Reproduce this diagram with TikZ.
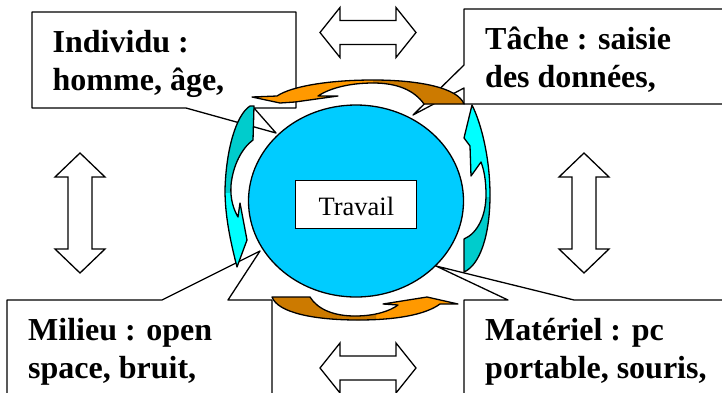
\documentclass[tikz,border=0pt]{standalone}
\usepackage{fontspec}
\setmainfont{Liberation Serif}
\usetikzlibrary{shapes.geometric}
\definecolor{skyfill}{RGB}{0,204,255}
\definecolor{orangeA}{RGB}{255,153,0}
\definecolor{brownA}{RGB}{204,122,0}
\definecolor{cyanDark}{RGB}{0,204,204}
\definecolor{cyanLight}{RGB}{0,255,255}
\tikzset{
  callout/.style={draw=black, line width=1.3pt, line join=round, fill=white},
  arrowline/.style={draw=black, line width=1.3pt, line join=round},
  blockarrow/.style={draw=black, line width=1.3pt, line join=miter, fill=white},
  boxtext/.style={anchor=base west, align=left, inner sep=0pt,
    font=\fontsize{32}{37.5}\selectfont\bfseries},
}
% two-tone curved arrow: #1 path, #2 main colour, #3 second colour, #4 region of second colour
\newcommand\twotonearrow[4]{%
  \fill[#2] #1;
  \begin{scope}\clip #4; \fill[#3] #1; \end{scope}
  \draw[arrowline] #1;
}
% white double block arrow: #1,#2 centre, #3 rotation, #4 half length, #5 head length
\newcommand\dblarrow[5]{%
  \draw[blockarrow, shift={(#1,#2)}, rotate=#3]
    (-#4,0) -- (-#4+#5,25) -- (-#4+#5,12) -- (#4-#5,12) -- (#4-#5,25) -- (#4,0)
    -- (#4-#5,-25) -- (#4-#5,-12) -- (-#4+#5,-12) -- (-#4+#5,-25) -- cycle;
}
\begin{document}
\begin{tikzpicture}[x=1pt,y=-1pt]
\useasboundingbox (0,0) rectangle (722,392);
\clip (0,0) rectangle (722,392);

% callout boxes
\draw[callout] (32,12) -- (296,12) -- (296,108) -- (254,108) -- (276,133) -- (186,108) -- (32,108) -- cycle;
\draw[callout] (464,9) -- (740,9) -- (740,104) -- (464,104) -- (464,88) -- (413,115) -- (464,65) -- cycle;
\draw[callout] (7,300) -- (162,300) -- (260,251) -- (228,300) -- (272,300) -- (272,400) -- (7,400) -- cycle;
\draw[callout] (464,300) -- (508,300) -- (436,266) -- (574,300) -- (740,300) -- (740,400) -- (464,400) -- cycle;

% texts (base anchor = baseline of the last line)
\node[boxtext] (individu) at (52.5,90) {Individu :\\homme, âge,};
\node[boxtext] (tache) at (485,87) {Tâche : saisie\\des données,};
\node[boxtext] (milieu) at (28,378) {Milieu : open\\space, bruit,};
\node[boxtext] (materiel) at (485,378) {Matériel : pc\\portable, souris,};

% central ellipse
\node[ellipse, draw=black, line width=1.3pt, fill=skyfill, minimum width=215pt,
      minimum height=192pt, inner sep=0pt] (work) at (356,201) {};
\node[draw=black, line width=1.3pt, fill=white, minimum width=121pt, minimum height=48pt,
      inner sep=0pt, text height=22pt, text depth=0pt,
      font=\fontsize{26.5}{30}\selectfont] (travail) at (356.3,204.2) {Travail};

% curved arrows
\twotonearrow{(252,97) -- (277,96) .. controls (292,86) and (330,80) .. (373,80)
  .. controls (420,80) and (458,88) .. (464,104) -- (424,104)
  .. controls (414,90) and (397,83) .. (373,83)
  .. controls (350,83) and (330,88) .. (318,96) -- (338,96) -- (295,102) -- (280,103) -- cycle}
  {orangeA}{brownA}{(373,60) rectangle (480,120)}

\twotonearrow{(272,297) -- (310,297) .. controls (318,310) and (335,316) .. (355,316)
  .. controls (375,316) and (390,311) .. (398,305) -- (383,304) -- (427,297) -- (458,304)
  -- (440,304) .. controls (425,315) and (395,320) .. (358,320)
  .. controls (315,320) and (278,313) .. (272,297) -- cycle}
  {orangeA}{brownA}{(250,280) rectangle (376,330)}

\twotonearrow{(472,105) .. controls (482,125) and (490,160) .. (490,195)
  .. controls (490,235) and (480,265) .. (464,272) -- (464,239)
  .. controls (478,233) and (486,215) .. (486,195)
  .. controls (486,180) and (484,170) .. (481,162) -- (471,176) -- (470,146) -- (464,138) -- cycle}
  {cyanLight}{cyanDark}{(450,197) rectangle (500,290)}

\twotonearrow{(254,106) -- (253,140) .. controls (242,148) and (233,165) .. (231,185)
  .. controls (230,200) and (234,210) .. (238,217) -- (240,203) -- (247,240) -- (237,267)
  .. controls (230,240) and (225,215) .. (225,190)
  .. controls (226,150) and (236,115) .. (250,106) -- cycle}
  {cyanLight}{cyanDark}{(210,90) rectangle (270,192)}

% double block arrows
\dblarrow{368}{32.5}{0}{48}{20}
\dblarrow{368}{368}{0}{48}{20}
\dblarrow{80}{213}{90}{60}{24}
\dblarrow{584}{213}{90}{60}{24}
\end{tikzpicture}
\end{document}
